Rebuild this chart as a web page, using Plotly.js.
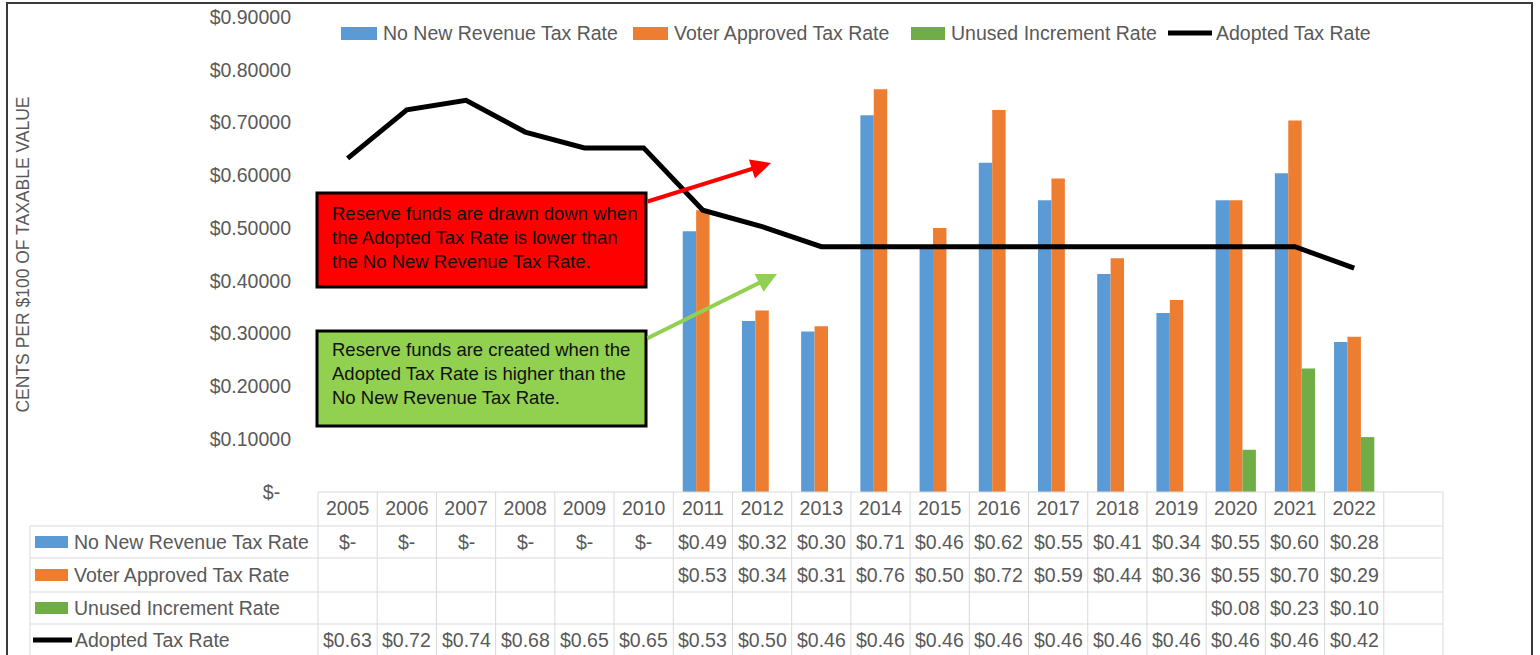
<!DOCTYPE html>
<html>
<head>
<meta charset="utf-8">
<script src="https://cdn.plot.ly/plotly-3.0.1.min.js"></script>
<style>
  html, body { margin: 0; padding: 0; background: #ffffff; }
  #chart { width: 1540px; height: 655px; }
</style>
</head>
<body>
<div id="chart"></div>
<script>
// ---------- data ----------
const years = ['2005','2006','2007','2008','2009','2010','2011','2012','2013','2014','2015','2016','2017','2018','2019','2020','2021','2022'];
const noNewRevenue = [0, 0, 0, 0, 0, 0, 0.494, 0.324, 0.304, 0.714, 0.462, 0.624, 0.553, 0.413, 0.339, 0.553, 0.604, 0.284];
const voterApproved = [null, null, null, null, null, null, 0.534, 0.344, 0.314, 0.763, 0.500, 0.724, 0.594, 0.443, 0.364, 0.553, 0.704, 0.294];
const unusedIncrement = [null, null, null, null, null, null, null, null, null, null, null, null, null, null, null, 0.080, 0.234, 0.104];
const adopted = [0.632, 0.724, 0.742, 0.682, 0.652, 0.652, 0.534, 0.503, 0.4649, 0.4649, 0.4649, 0.4649, 0.4649, 0.4649, 0.4649, 0.4649, 0.4649, 0.424];
const seriesNames = ['No New Revenue Tax Rate', 'Voter Approved Tax Rate', 'Unused Increment Rate', 'Adopted Tax Rate'];
const yTickVals = [0, 0.1, 0.2, 0.3, 0.4, 0.5, 0.6, 0.7, 0.8, 0.9];
const yTitle = 'CENTS PER $100 OF TAXABLE VALUE';
const noteRed = ['Reserve funds are drawn down when', 'the Adopted Tax Rate is lower than', 'the No New Revenue Tax Rate.'];
const noteGreen = ['Reserve funds are created when the', 'Adopted Tax Rate is higher than the', 'No New Revenue Tax Rate.'];

// ---------- style ----------
const COLORS = ['#5B9BD5', '#ED7D31', '#70AD47', '#000000'];
const FONT = 'Liberation Sans, Arial, sans-serif';
const GREY = '#595959';
const GRID = '#d9d9d9';
const W = 1540, H = 655, ML = 318, MR = 97, MT = 17, MB = 163;
const PW = W - ML - MR, PH = H - MT - MB;
const NCOLS = years.length + 1;   // one empty column at the right
const px = v => (v - ML) / PW;
const py = v => (H - MB - v) / PH;
const colCenter = i => (i + 0.5) / NCOLS;

const fmt = v => v === null ? '' : (v === 0 ? '$-' : '$' + v.toFixed(2));

// ---------- traces ----------
const barSeries = [noNewRevenue, voterApproved, unusedIncrement];
const traces = barSeries.map((vals, i) => ({
  type: 'bar', name: seriesNames[i], x: years, y: vals,
  marker: { color: COLORS[i], line: { width: 0 } }, hoverinfo: 'x+y'
}));
traces.push({
  type: 'scatter', mode: 'lines', name: seriesNames[3], x: years, y: adopted,
  line: { color: COLORS[3], width: 5 }, hoverinfo: 'x+y'
});

// ---------- shapes & annotations ----------
const shapes = [];
const annotations = [];

// outer frame
shapes.push({ type: 'rect', xref: 'paper', yref: 'paper', x0: px(7), x1: px(1532), y0: py(3), y1: py(720),
  line: { color: '#3a3a3a', width: 2 }, fillcolor: 'rgba(0,0,0,0)', layer: 'below' });

// data table grid
const rowLines = [526, 558, 592, 624];
shapes.push({ type: 'line', xref: 'paper', yref: 'paper', x0: 0, x1: 1, y0: py(492), y1: py(492), line: { color: GRID, width: 1 } });
rowLines.forEach(r => shapes.push({ type: 'line', xref: 'paper', yref: 'paper', x0: px(30), x1: 1, y0: py(r), y1: py(r), line: { color: GRID, width: 1 } }));
for (let k = 0; k <= NCOLS; k++) {
  shapes.push({ type: 'line', xref: 'paper', yref: 'paper', x0: k / NCOLS, x1: k / NCOLS, y0: py(492), y1: py(720), line: { color: GRID, width: 1 } });
}
shapes.push({ type: 'line', xref: 'paper', yref: 'paper', x0: px(30), x1: px(30), y0: py(526), y1: py(720), line: { color: GRID, width: 1 } });

// table rows: key + label + cells
const rowCenters = [542, 575, 608, 640];
const rowData = [noNewRevenue, voterApproved, unusedIncrement, adopted];
rowData.forEach((vals, r) => {
  const yc = rowCenters[r];
  if (r < 3) {
    shapes.push({ type: 'rect', xref: 'paper', yref: 'paper', x0: px(35), x1: px(68), y0: py(yc - 6), y1: py(yc + 6),
      fillcolor: COLORS[r], line: { width: 0 } });
  } else {
    shapes.push({ type: 'line', xref: 'paper', yref: 'paper', x0: px(33), x1: px(72), y0: py(yc), y1: py(yc),
      line: { color: COLORS[r], width: 5 } });
  }
  annotations.push({ xref: 'paper', yref: 'paper', x: px(r < 3 ? 72 : 73), y: py(yc), xanchor: 'left', yanchor: 'middle',
    text: seriesNames[r], showarrow: false, font: { family: FONT, size: 19.5, color: GREY } });
  vals.forEach((v, i) => {
    const t = fmt(v);
    if (t) annotations.push({ xref: 'paper', yref: 'paper', x: colCenter(i), y: py(yc), xanchor: 'center', yanchor: 'middle',
      text: t, showarrow: false, font: { family: FONT, size: 19.5, color: GREY } });
  });
});

// top legend
const legendItems = [
  { key: [341, 377], text: 381 },
  { key: [633, 668], text: 672 },
  { key: [911, 945], text: 949 },
  { key: [1168, 1212], text: 1214 }
];
legendItems.forEach((it, i) => {
  if (i < 3) {
    shapes.push({ type: 'rect', xref: 'paper', yref: 'paper', x0: px(it.key[0]), x1: px(it.key[1]), y0: py(27), y1: py(40),
      fillcolor: COLORS[i], line: { width: 0 } });
  } else {
    shapes.push({ type: 'line', xref: 'paper', yref: 'paper', x0: px(it.key[0]), x1: px(it.key[1]), y0: py(33), y1: py(33),
      line: { color: COLORS[i], width: 5 } });
  }
  annotations.push({ xref: 'paper', yref: 'paper', x: px(it.text), y: py(33), xanchor: 'left', yanchor: 'middle',
    text: seriesNames[i], showarrow: false, font: { family: FONT, size: 19.5, color: GREY } });
});

// callouts
shapes.push({ type: 'rect', xref: 'paper', yref: 'paper', x0: px(317), x1: px(646), y0: py(193), y1: py(287),
  fillcolor: '#FF0000', line: { color: '#000000', width: 3 }, layer: 'above' });
shapes.push({ type: 'rect', xref: 'paper', yref: 'paper', x0: px(317), x1: px(646), y0: py(331), y1: py(426),
  fillcolor: '#92D050', line: { color: '#000000', width: 3 }, layer: 'above' });
annotations.push({ xref: 'paper', yref: 'paper', x: px(330), y: py(237), xanchor: 'left', yanchor: 'middle', align: 'left',
  text: noteRed.join('<br>'), showarrow: false, font: { family: FONT, size: 18.5, color: '#111111' } });
annotations.push({ xref: 'paper', yref: 'paper', x: px(330), y: py(373), xanchor: 'left', yanchor: 'middle', align: 'left',
  text: noteGreen.join('<br>'), showarrow: false, font: { family: FONT, size: 18.5, color: '#111111' } });
annotations.push({ xref: 'paper', yref: 'paper', x: px(771), y: py(163), text: '', showarrow: true,
  ax: -125, ay: 39, arrowcolor: '#FF0000', arrowwidth: 4, arrowhead: 2, arrowsize: 1, standoff: 0 });
annotations.push({ xref: 'paper', yref: 'paper', x: px(777), y: py(274), text: '', showarrow: true,
  ax: -131, ay: 65, arrowcolor: '#92D050', arrowwidth: 4, arrowhead: 2, arrowsize: 1, standoff: 0 });

const layout = {
  width: W, height: H,
  margin: { l: ML, r: MR, t: MT, b: MB, pad: 0 },
  paper_bgcolor: '#ffffff', plot_bgcolor: '#ffffff',
  showlegend: false,
  barmode: 'group', bargap: 0.32, bargroupgap: 0,
  font: { family: FONT, color: GREY },
  xaxis: {
    type: 'category', range: [-0.5, years.length + 0.5], fixedrange: true,
    showgrid: false, zeroline: false, showline: false, ticks: '',
    tickfont: { family: FONT, size: 19.5, color: GREY }, ticklabelstandoff: 2
  },
  yaxis: {
    range: [0, 0.9], fixedrange: true, showgrid: false, zeroline: false, showline: false, ticks: '',
    tickvals: yTickVals,
    ticktext: yTickVals.map(v => v === 0 ? '$-\u00a0\u00a0' : '$' + v.toFixed(5)),
    tickfont: { family: FONT, size: 19.5, color: GREY }, ticklabelstandoff: 26,
    title: { text: yTitle, font: { family: FONT, size: 17.5, color: GREY }, standoff: 175 }
  },
  shapes: shapes,
  annotations: annotations
};

Plotly.newPlot('chart', traces, layout, { displayModeBar: false, staticPlot: true });
</script>
</body>
</html>
